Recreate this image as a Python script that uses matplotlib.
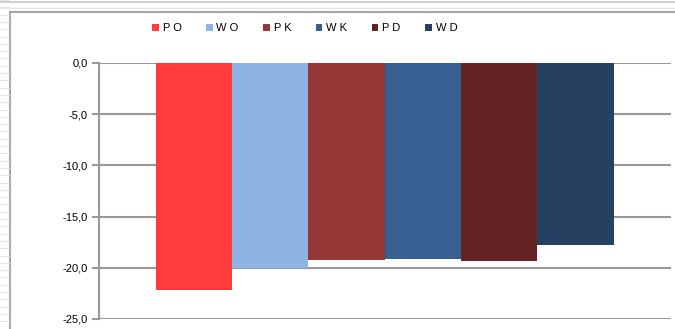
import numpy as np
import matplotlib.pyplot as plt
from matplotlib.patches import Rectangle
from matplotlib.lines import Line2D

plt.rcParams['font.family'] = ['Liberation Sans', 'DejaVu Sans']

series = ['P O', 'W O', 'P K', 'W K', 'P D', 'W D']
values = [-22.2, -20.0, -19.2, -19.1, -19.3, -17.8]
colors = ['#FF3B3B', '#8EB4E3', '#953735', '#376092', '#632423', '#254061']
yticks = [0, -5, -10, -15, -20, -25]

fig = plt.figure(figsize=(6.75, 3.29), dpi=100)

# spreadsheet row lines behind the chart frame
for yy in np.arange(329, 0, -7.3):
    fig.add_artist(Line2D([0, 9 / 675], [yy / 329, yy / 329], color='#e4e4e4', lw=0.8))
fig.add_artist(Line2D([0, 1], [1 - 1.5 / 329, 1 - 1.5 / 329], color='#d0d0d0', lw=1.5))
fig.add_artist(Line2D([0, 1], [1 - 8 / 329, 1 - 8 / 329], color='#e6e6e6', lw=1.0))
# chart area frame
fig.add_artist(Rectangle((9.5 / 675, -0.1), 1.2, 1.1 - 12.5 / 329, transform=fig.transFigure,
                         facecolor='white', edgecolor='#a6a6a6', lw=1.5, zorder=0))

ax = fig.add_axes([98.7 / 675, 1 - 319 / 329, 572 / 675, 256 / 329])
ax.set_facecolor('none')

n = len(series)
w = 0.8 / n
for i, (lab, v, c) in enumerate(zip(series, values, colors)):
    ax.bar(-0.4 + w * (i + 0.5), v, width=w, color=c, label=lab, zorder=3)

ax.set_xlim(-0.5, 0.5)
ax.set_ylim(-25, 0)
ax.set_yticks(yticks)
ax.set_yticklabels([f'{t:.1f}'.replace('.', ',') for t in yticks], fontsize=8)
ax.set_xticks([])
ax.yaxis.grid(True, color='#999999', lw=1.5, zorder=1)
for s in ['top', 'right', 'bottom']:
    ax.spines[s].set_visible(False)
ax.spines['left'].set_color('#999999')
ax.spines['left'].set_linewidth(1.5)
ax.tick_params(axis='y', length=5, width=1.5, color='#999999', pad=3)

ax.legend(ncol=6, loc='center', bbox_to_anchor=(0.36, 1.135), frameon=False,
          fontsize=8, handlelength=0.6, handleheight=0.6, handletextpad=0.35,
          columnspacing=2.2, borderaxespad=0)

fig.savefig('out.png', dpi=100)
